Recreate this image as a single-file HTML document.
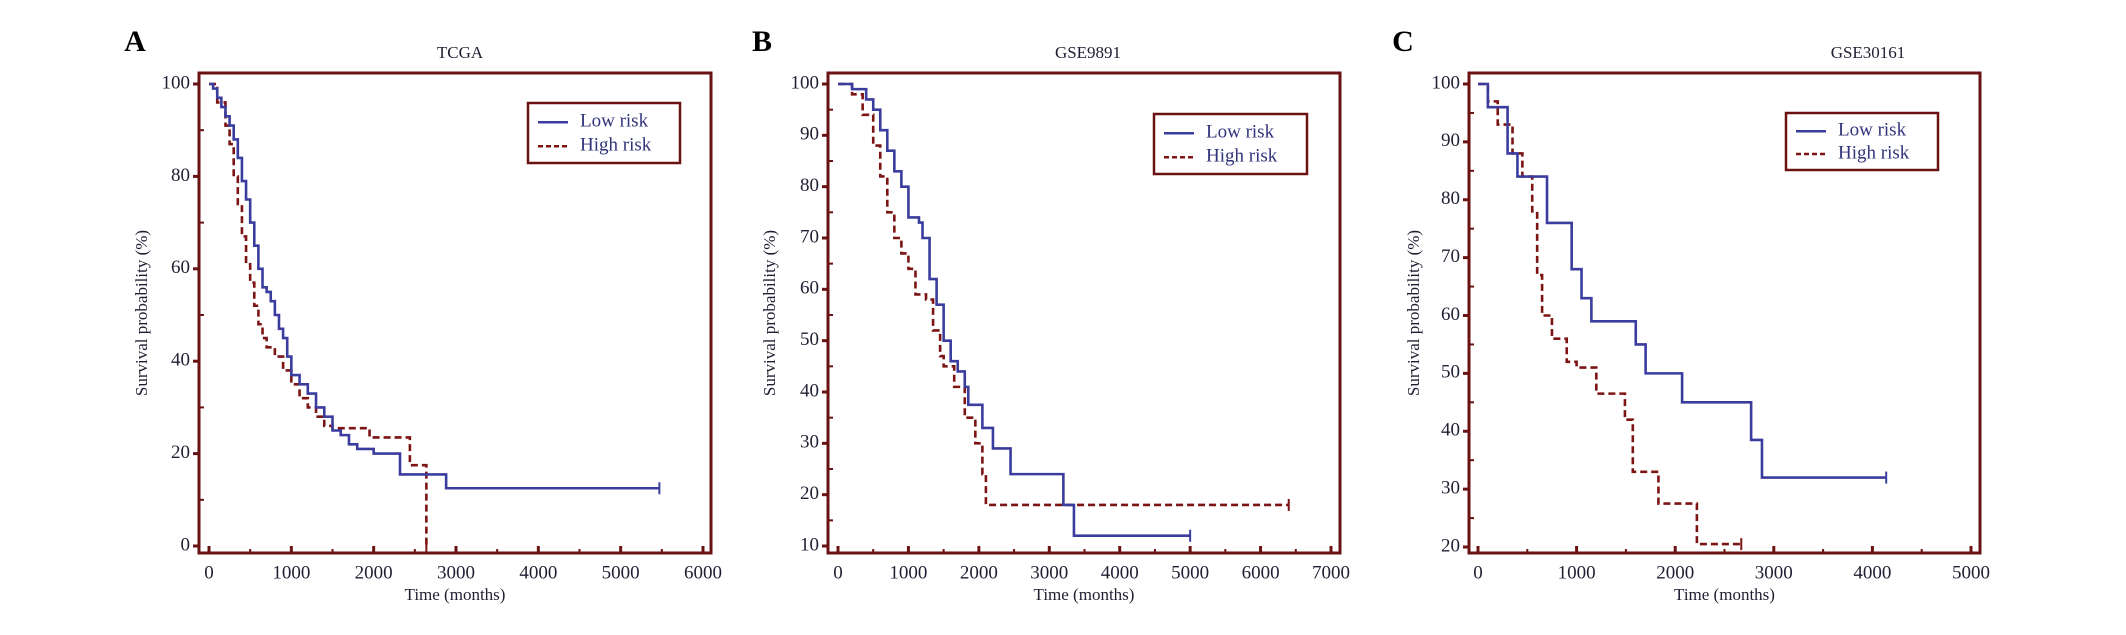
<!DOCTYPE html>
<html><head><meta charset="utf-8"><style>
html,body{margin:0;padding:0;background:#fff;}
svg{display:block;font-family:"Liberation Serif",serif;}
</style></head><body>
<svg id="fig" width="2126" height="635" viewBox="0 0 2126 635"></svg>
<script>
// ---- data ----
const aLowT=[0,50,100,150,200,250,300,350,400,450,500,550,600,650,700,750,800,850,900,950,1000,1100,1200,1300,1400,1500,1600,1700,1800,2000,2320,2880,5470];
const aLowS=[100,99,97,95,93,91,88,84,79,75,70,65,60,56,55,53,50,47,45,41,37,35,33,30,28,25,24,22,21,20,15.5,12.5,12.5];
const aHighT=[0,100,200,250,300,350,400,450,500,550,600,650,700,800,900,1000,1100,1200,1300,1400,1500,1950,2440,2640];
const aHighS=[100,96,91,87,80,74,67,61,57,52,48,45,43,41,38,35,32,30,28,26,25.5,23.5,17.5,0];
const bLowT=[0,200,400,500,600,700,800,900,1000,1150,1200,1300,1400,1500,1600,1700,1800,1850,2050,2200,2450,3200,3350,5000];
const bLowS=[100,99,97,95,91,87,83,80,74,73,70,62,57,50,46,44,41,37.5,33,29,24,18,12,12];
const bHighT=[0,200,350,500,600,700,800,900,1000,1100,1250,1350,1450,1500,1650,1800,1950,2050,2100,6400];
const bHighS=[100,98,94,88,82,75,70,67,64,59,58,52,47,45,41,35,30,24,18,18];
const cLowT=[0,100,300,400,700,950,1050,1150,1600,1700,2070,2770,2880,4140];
const cLowS=[100,96,88,84,76,68,63,59,55,50,45,38.5,32,32];
const cHighT=[0,100,200,350,450,550,600,650,750,900,1000,1200,1490,1570,1830,2220,2670];
const cHighS=[100,97,93,88,84,78,67,60,56,52,51,46.5,42,33,27.5,20.5,20.5];
const aXTicks=[0,1000,2000,3000,4000,5000,6000];
const aYTicks=[0,20,40,60,80,100];
const bXTicks=[0,1000,2000,3000,4000,5000,6000,7000];
const bYTicks=[10,20,30,40,50,60,70,80,90,100];
const cXTicks=[0,1000,2000,3000,4000,5000];
const cYTicks=[20,30,40,50,60,70,80,90,100];

const NS="http://www.w3.org/2000/svg";
const svg=document.getElementById('fig');
const BORDER="#6a1212", BLUE="#3a3d9e", RED="#7c1414", TXT="#1f1f33";
function mk(tag,attrs,parent){const e=document.createElementNS(NS,tag);for(const k in attrs)e.setAttribute(k,attrs[k]);(parent||svg).appendChild(e);return e;}

const panels=[
 {id:'a',letter:'A',lx:135,title:'TCGA',tx:460,box:[199,73,711,553],x0:209,xmax:703,xv:6000,y0v:0,y0:546,y1v:100,y1:84,xt:aXTicks,yt:aYTicks,lowT:aLowT,lowS:aLowS,highT:aHighT,highS:aHighS,ylab:143,leg:[528,103,680,163]},
 {id:'b',letter:'B',lx:762,title:'GSE9891',tx:1088,box:[828,73,1340,553],x0:838,xmax:1331,xv:7000,y0v:10,y0:546,y1v:100,y1:84,xt:bXTicks,yt:bYTicks,lowT:bLowT,lowS:bLowS,highT:bHighT,highS:bHighS,ylab:771,leg:[1154,114,1307,174]},
 {id:'c',letter:'C',lx:1403,title:'GSE30161',tx:1868,box:[1469,73,1980,553],x0:1478,xmax:1971,xv:5000,y0v:20,y0:547,y1v:100,y1:84,xt:cXTicks,yt:cYTicks,lowT:cLowT,lowS:cLowS,highT:cHighT,highS:cHighS,ylab:1415,leg:[1786,113,1938,170]}
];

panels.forEach(p=>{
  const g=mk('g',{});
  
  
  const X=v=>p.x0+(v/p.xv)*(p.xmax-p.x0);
  const Y=v=>p.y0+(v-p.y0v)/(p.y1v-p.y0v)*(p.y1-p.y0);
  const L=mk('text',{x:p.lx,y:44,'font-size':30,'font-weight':'bold','text-anchor':'middle','dominant-baseline':'middle',fill:'#000'},g);
  L.textContent=p.letter;
  
  
  const T=mk('text',{x:p.tx,y:58,'font-size':17,'text-anchor':'middle',fill:TXT},g);
  T.textContent=p.title;
  
  
  const [bx1,by1,bx2,by2]=p.box;
  const yStep=p.yt[1]-p.yt[0];
  p.yt.forEach((v,i)=>{
    const y=Y(v);
    const tk=mk('line',{x1:bx1-6,y1:y,x2:bx1,y2:y,stroke:BORDER,'stroke-width':3},g);
    
    
    const t=mk('text',{x:bx1-9,y:y,'font-size':19,'text-anchor':'end','dominant-baseline':'middle',fill:TXT},g);
    t.textContent=v;
    
    
    if(i<p.yt.length-1){const ym=Y(v+yStep/2);
      const mt=mk('line',{x1:bx1,y1:ym,x2:bx1+5,y2:ym,stroke:BORDER,'stroke-width':2},g);
      
      }
  });
  p.xt.forEach((v,i)=>{
    const x=X(v);
    const tk=mk('line',{x1:x,y1:by2,x2:x,y2:by2-7,stroke:BORDER,'stroke-width':3},g);
    
    
    const t=mk('text',{x:x,y:574,'font-size':19,'text-anchor':'middle','dominant-baseline':'middle',fill:TXT},g);
    t.textContent=v;
    
    
    if(i<p.xt.length-1){const xm=X(v+500);
      const mt=mk('line',{x1:xm,y1:by2,x2:xm,y2:by2-4,stroke:BORDER,'stroke-width':2},g);
      
      }
  });
  const xl=mk('text',{x:(bx1+bx2)/2,y:600,'font-size':17,'text-anchor':'middle',fill:TXT},g);
  xl.textContent='Time (months)';
  
  
  const yl=mk('text',{x:p.ylab,y:(by1+by2)/2,'font-size':17,'text-anchor':'middle','dominant-baseline':'middle',fill:TXT,transform:`rotate(-90 ${p.ylab} ${(by1+by2)/2})`},g);
  yl.textContent='Survival probability (%)';
  
  
  function drawStep(Ts,Ss,color,dash,name){
    let d=`M${X(Ts[0])},${Y(Ss[0])}`;
    for(let i=1;i<Ts.length;i++){d+=` H${X(Ts[i])} V${Y(Ss[i])}`;}
    const path=mk('path',{d:d,fill:'none',stroke:color,'stroke-width':2.6,'stroke-dasharray':dash},g);
    
    
    const last=Ts.length-1;
    const c=mk('line',{x1:X(Ts[last]),y1:Y(Ss[last])-6,x2:X(Ts[last]),y2:Y(Ss[last])+6,stroke:color,'stroke-width':2},g);
    
    
  }
  drawStep(p.highT,p.highS,RED,'7 4','high-risk-curve');
  drawStep(p.lowT,p.lowS,BLUE,'none','low-risk-curve');
  const box=mk('rect',{x:bx1,y:by1,width:bx2-bx1,height:by2-by1,fill:'none',stroke:BORDER,'stroke-width':3},g);
  
  
  const [lx1,ly1,lx2,ly2]=p.leg;
  const lg=mk('g',{},g);
  
  
  mk('rect',{x:lx1,y:ly1,width:lx2-lx1,height:ly2-ly1,fill:'#fff',stroke:BORDER,'stroke-width':2.5},lg);
  const h=ly2-ly1;
  const e1=mk('g',{},lg);
  
  
  mk('line',{x1:lx1+10,y1:ly1+h*0.32,x2:lx1+40,y2:ly1+h*0.32,stroke:BLUE,'stroke-width':2.5},e1);
  const t1=mk('text',{x:lx1+52,y:ly1+h*0.32,'font-size':19,'dominant-baseline':'middle',fill:'#30337a'},e1);t1.textContent='Low risk';
  const e2=mk('g',{},lg);
  
  
  mk('line',{x1:lx1+10,y1:ly1+h*0.72,x2:lx1+40,y2:ly1+h*0.72,stroke:RED,'stroke-width':2.5,'stroke-dasharray':'5 3'},e2);
  const t2=mk('text',{x:lx1+52,y:ly1+h*0.72,'font-size':19,'dominant-baseline':'middle',fill:'#30337a'},e2);t2.textContent='High risk';
});
</script>
</body></html>
